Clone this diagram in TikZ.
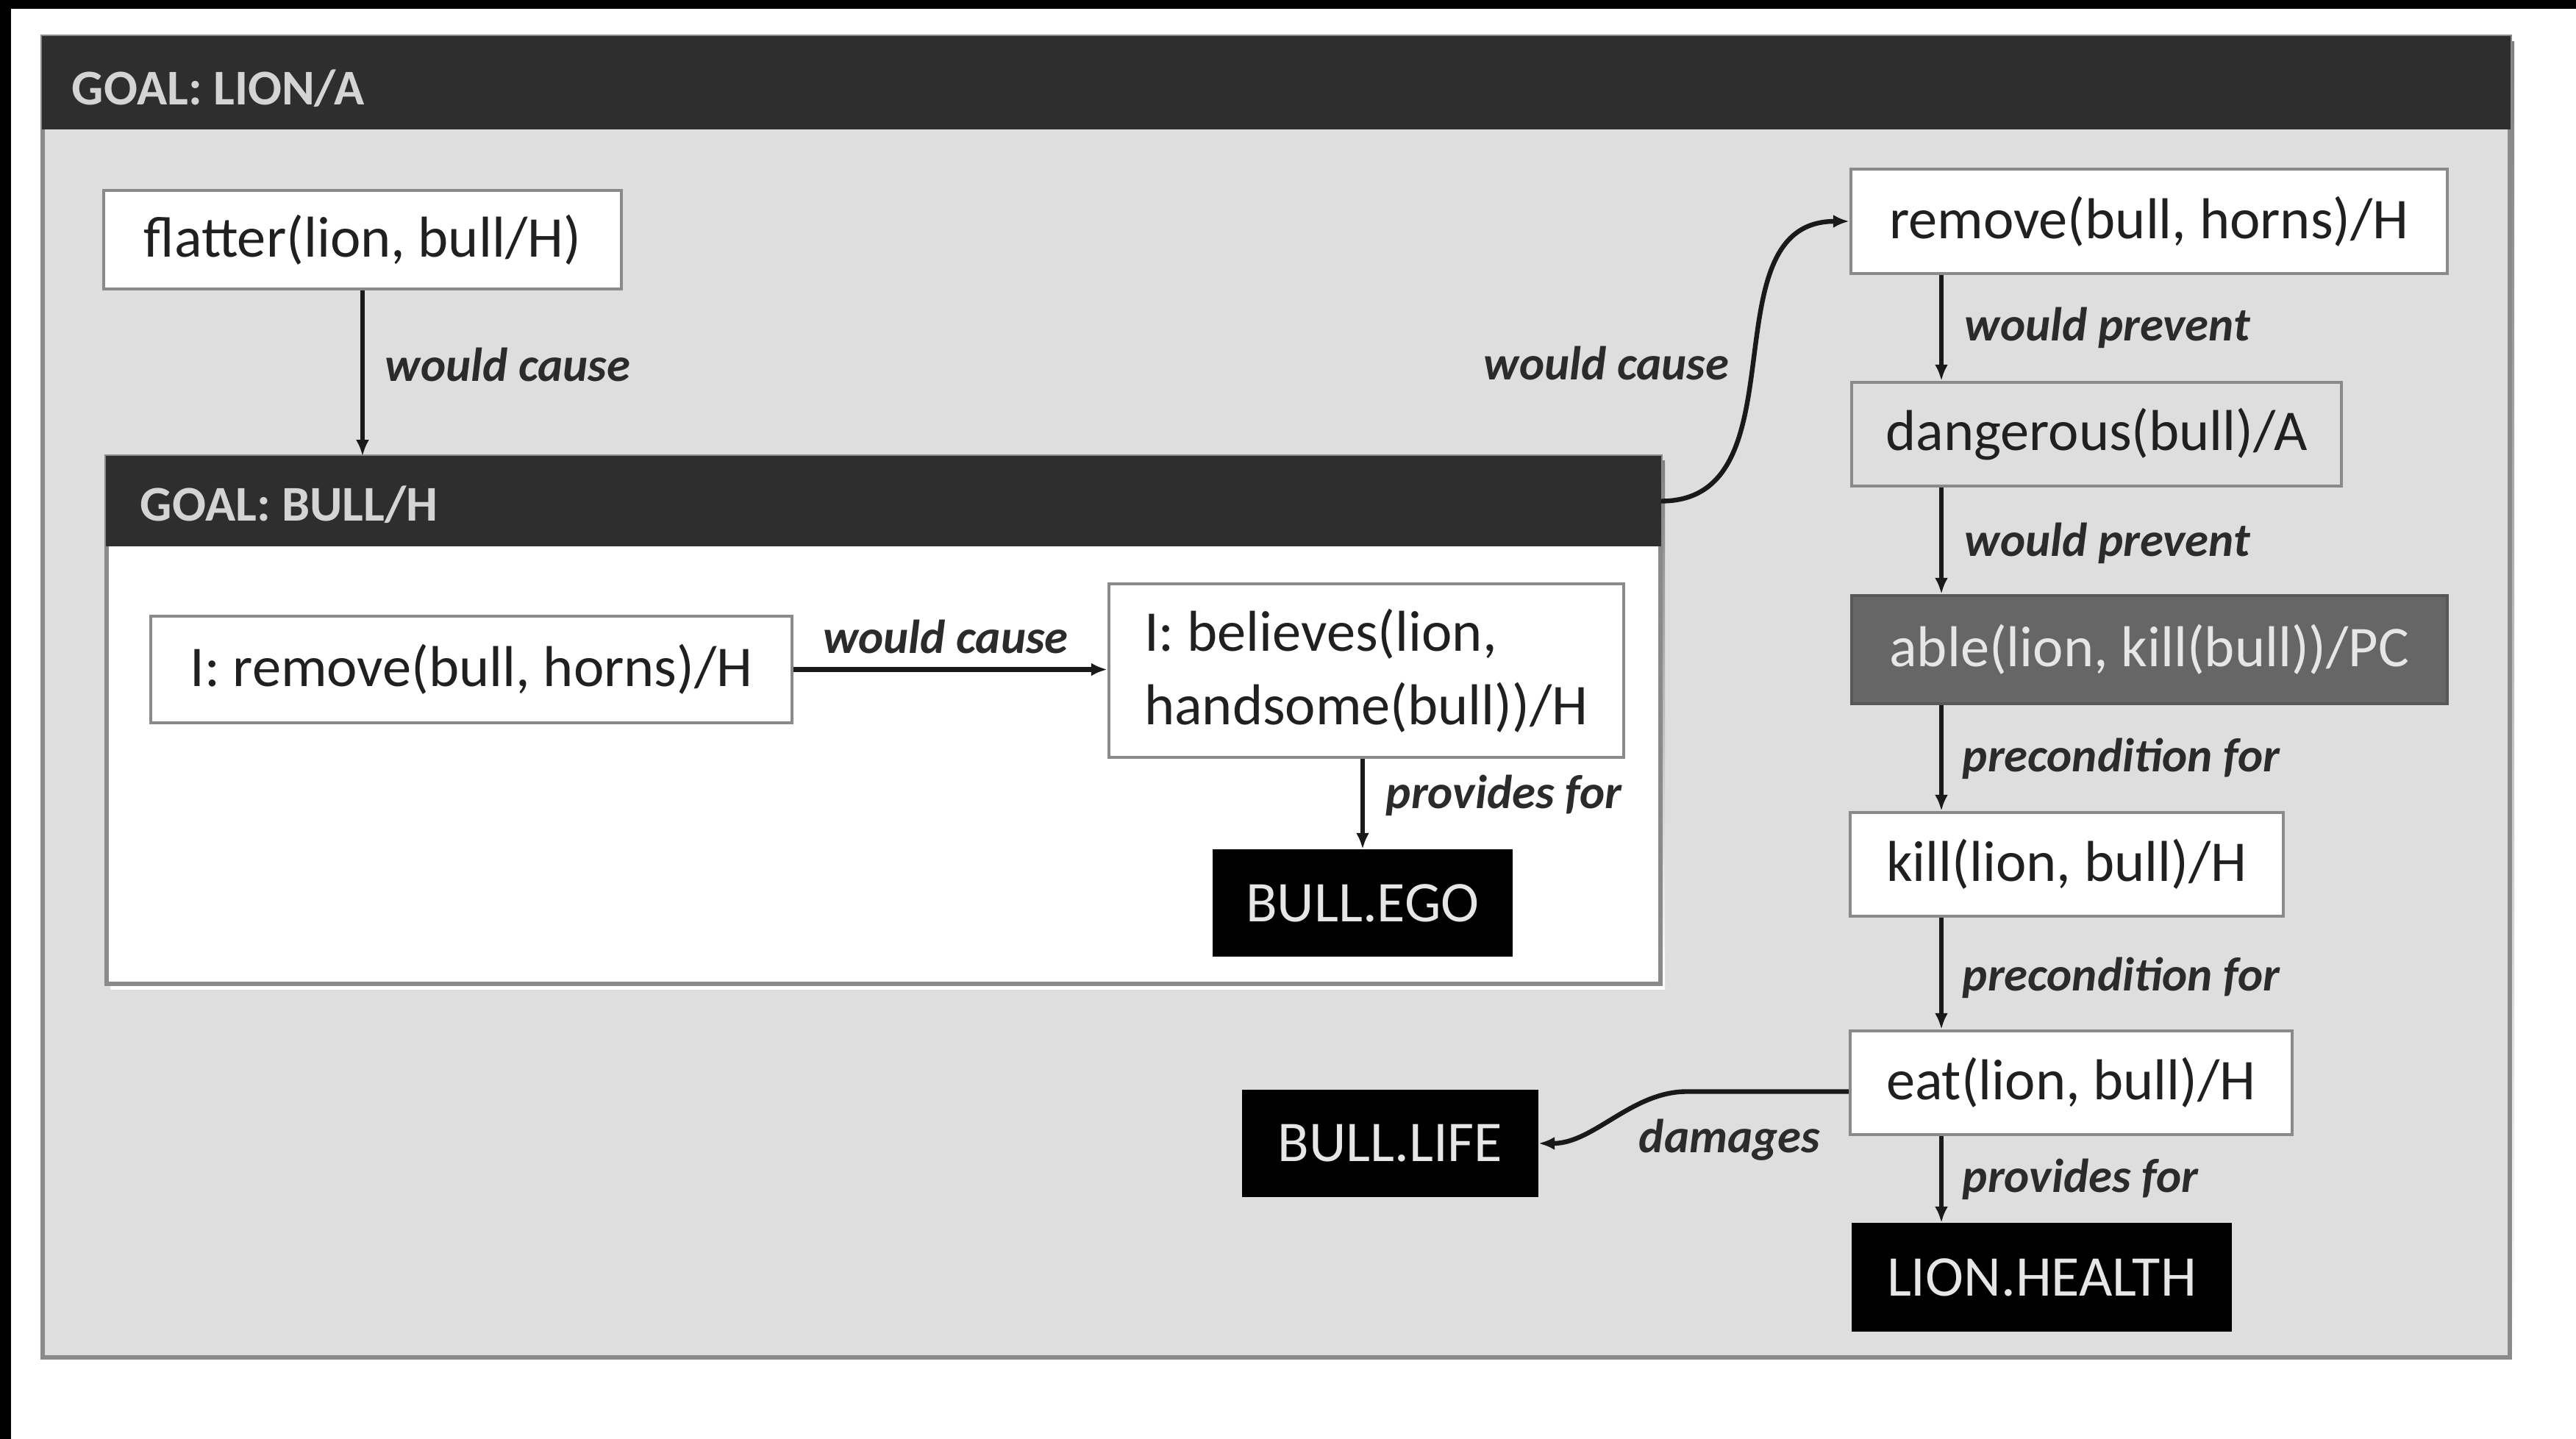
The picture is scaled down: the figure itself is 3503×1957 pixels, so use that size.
\documentclass[tikz,border=0pt]{standalone}
\usepackage{fontspec}
\setmainfont{Carlito}
\usetikzlibrary{arrows.meta}

\definecolor{panel}{HTML}{DEDEDE}
\definecolor{headbar}{HTML}{2E2E2E}
\definecolor{edge}{HTML}{8A8A8A}
\definecolor{pcfill}{HTML}{666666}
\definecolor{lighttext}{HTML}{E6E6E6}
\definecolor{titletext}{HTML}{D4D4D4}
\definecolor{labeltext}{HTML}{2B2B2B}
\definecolor{boxtext}{HTML}{202020}
\definecolor{shade}{HTML}{A8A8A8}

\tikzset{
  frame/.style={draw=edge, line width=1.3pt, inner sep=0pt},
  headerbar/.style={fill=headbar, draw=headbar, inner sep=0pt},
  titletxt/.style={anchor=west, inner sep=0pt, text=titletext,
    font=\fontsize{17pt}{20pt}\selectfont\bfseries},
  statebox/.style={draw=edge, line width=1.1pt, fill=white, inner sep=0pt,
    text=boxtext, font=\fontsize{19.6pt}{25pt}\selectfont},
  greybox/.style={statebox, fill=panel},
  pcbox/.style={statebox, fill=pcfill, draw=pcfill!85!black, text=lighttext},
  needbox/.style={statebox, fill=black, draw=black, text=lighttext},
  lbl/.style={inner sep=0pt, text=labeltext,
    font=\fontsize{16.2pt}{20pt}\selectfont\bfseries\itshape},
  link/.style={line width=1.6pt, draw=black!90, -{Latex[length=5.5pt,width=4.5pt]}},
}

\begin{document}
\frenchspacing
\begin{tikzpicture}[x=0.25pt, y=-0.25pt]
  % page and edge strips
  \useasboundingbox (0,0) rectangle (3503,1957);
  \fill[white] (0,0) rectangle (3503,1957);
  \fill[black] (0,0) rectangle (3503,12);
  \fill[black] (0,0) rectangle (15,1957);

  % outer goal container: GOAL: LION/A
  \fill[shade] (64,57) rectangle (3419,1853);
  \node[frame, fill=panel, minimum width=838.75pt, minimum height=449pt]
    (lionbox) at (1735.5,948) {};
  \node[headerbar, minimum width=838.75pt, minimum height=31.25pt]
    (lionhead) at (1735.5,112.5) {};
  \node[titletxt] (liontitle) at (97,120) {GOAL: LION/A};

  % inner goal container: GOAL: BULL/H
  \fill[shade] (150,627) rectangle (2264,1345);
  \node[frame, fill=white, minimum width=528.25pt, minimum height=179.25pt]
    (bullbox) at (1201.5,979.5) {};
  \node[headerbar, minimum width=528.25pt, minimum height=30.25pt]
    (bullhead) at (1201.5,681.5) {};
  \node[titletxt] (bulltitle) at (190,686) {GOAL: BULL/H};

  % state boxes
  \node[statebox, minimum width=176pt, minimum height=33.5pt]
    (flatter) at (493,326) {flatter(lion, bull/H)};
  \node[statebox, minimum width=218pt, minimum height=36.25pt]
    (iremove) at (641,910.5) {I: remove(bull, horns)/H};
  \node[statebox, align=left, minimum width=175pt, minimum height=59pt]
    (believes) at (1858,912) {I: believes(lion,\\handsome(bull))/H};
  \node[needbox, minimum width=100.75pt, minimum height=35.5pt]
    (bullego) at (1853,1228) {BULL.EGO};

  \node[statebox, minimum width=202.75pt, minimum height=35.5pt]
    (horns) at (2922.5,301) {remove(bull, horns)/H};
  \node[greybox, minimum width=166.5pt, minimum height=35.25pt]
    (danger) at (2851,590.5) {dangerous(bull)/A};
  \node[pcbox, minimum width=202.5pt, minimum height=36.75pt]
    (able) at (2923,883.5) {able(lion, kill(bull))/PC};
  \node[statebox, minimum width=147.25pt, minimum height=35.25pt]
    (kill) at (2810.5,1175.5) {kill(lion, bull)/H};
  \node[statebox, minimum width=150.25pt, minimum height=35.25pt]
    (eat) at (2816.5,1472.5) {eat(lion, bull)/H};
  \node[needbox, minimum width=99.75pt, minimum height=35.5pt]
    (bulllife) at (1890.5,1555) {BULL.LIFE};
  \node[needbox, minimum width=128.25pt, minimum height=36pt]
    (lionhealth) at (2776.5,1737) {LION.HEALTH};

  % column of the right-hand chain
  \coordinate (chain) at (2640,0);

  % connectors
  \draw[link] (flatter.south) -- (flatter.south |- bullhead.north);
  \draw[link] (iremove.east) -- (iremove.east -| believes.west);
  \draw[link] (believes.south -| bullego.north) -- (bullego.north);
  \draw[link] (bullhead.east) to[out=0, in=180, looseness=1.1] (horns.west);
  \draw[link] (horns.south -| chain) -- (danger.north -| chain);
  \draw[link] (danger.south -| chain) -- (able.north -| chain);
  \draw[link] (able.south -| chain) -- (kill.north -| chain);
  \draw[link] (kill.south -| chain) -- (eat.north -| chain);
  \draw[link] (eat.south -| chain) -- (lionhealth.north -| chain);
  \draw[link] ([yshift=-3pt]eat.west) -- ++(-220,0)
    to[out=180, in=0, looseness=0.9] (bulllife.east);

  % connector labels
  \node[lbl, anchor=west] (l1) at (523,496) {would cause};
  \node[lbl] (l2) at (1286,866) {would cause};
  \node[lbl, anchor=west] (l3) at (1884,1082) {provides for};
  \node[lbl, anchor=east] (l4) at (2352,494) {would cause};
  \node[lbl, anchor=west] (l5) at (2671,446) {would prevent};
  \node[lbl, anchor=west] (l6) at (2671,739) {would prevent};
  \node[lbl, anchor=west] (l7) at (2668,1032) {precondition for};
  \node[lbl, anchor=west] (l8) at (2668,1330) {precondition for};
  \node[lbl, anchor=west] (l9) at (2668,1604) {provides for};
  \node[lbl, anchor=west] (l10) at (2228,1550) {damages};
\end{tikzpicture}
\end{document}
